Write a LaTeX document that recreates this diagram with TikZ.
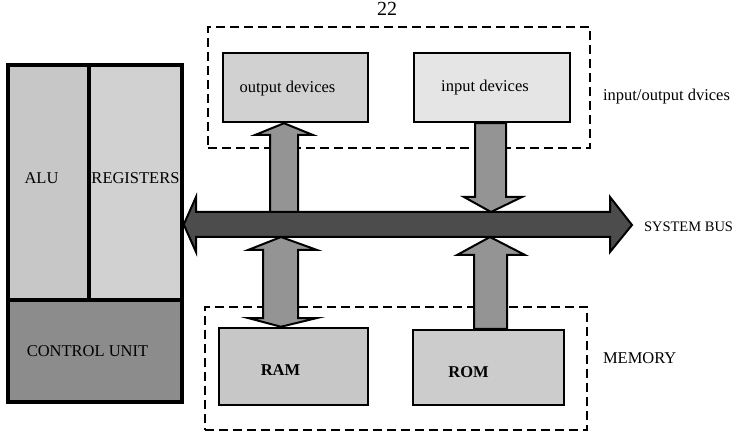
\documentclass[tikz,border=0pt]{standalone}
\usepackage{fontspec}
\setmainfont{Liberation Serif}

\begin{document}
\begin{tikzpicture}
[x=1pt, y=-1pt, font=\fontsize{16.5}{19}\selectfont, line width=2pt,
cpu0/.style={rectangle, draw, line width=3.5pt, fill=black!22, inner sep=0pt},
cpu1/.style={rectangle, draw, line width=3.5pt, fill=black!45, inner sep=0pt},
unit0/.style={rectangle, draw, line width=2.5pt, fill=black!22, inner sep=0pt},
unit1/.style={rectangle, draw, line width=2.5pt, fill=black!10, inner sep=0pt},
frame/.style={rectangle, draw, line width=2.5pt, dash pattern=on 9pt off 5pt, inner sep=0pt},
note/.style={anchor=west, inner sep=0pt},
bus/.style={draw, line width=2pt, fill=black!70, line join=miter},
link/.style={draw, line width=2pt, fill=black!42, line join=miter}]

\useasboundingbox (0,0) rectangle (741,438);

\node[frame, minimum width=382pt, minimum height=121pt] (io) at (399,87.5) {};
\node[frame, minimum width=382pt, minimum height=123pt] (mem) at (396,368.5) {};

\node[cpu0, minimum width=81pt, minimum height=235pt, label={[xshift=-7pt, yshift=4.5pt]center:ALU}] (alu) at (48.5,182.5) {};
\node[cpu0, fill=black!18, minimum width=93pt, minimum height=235pt, label={[yshift=4.5pt]center:REGISTERS}] (regs) at (135.5,182.5) {};
\node[cpu1, minimum width=174pt, minimum height=102pt, label={[xshift=-7.5pt]center:CONTROL UNIT}] (ctrl) at (95,351) {};

\node[unit0, fill=black!18, minimum width=145pt, minimum height=69pt, label={[xshift=-8pt, yshift=-1.5pt]center:output devices}] (outdev) at (295.5,87.5) {};
\node[unit1, minimum width=156pt, minimum height=69pt, label={[xshift=-7pt]center:input devices}] (indev) at (492,87.5) {};
\node[unit0, minimum width=149pt, minimum height=77pt, label={[xshift=-13pt, yshift=-3.5pt]center:\textbf{RAM}}] (ram) at (293.5,366.5) {};
\node[unit0, fill=black!20, minimum width=151pt, minimum height=75pt, label={[xshift=-20pt, yshift=-4.5pt]center:\textbf{ROM}}] (rom) at (488.5,367.5) {};

% system bus
\draw[bus] (regs.east |- 0,224.5) -- (196,197) -- (196,212) -- (610,212) -- (610,197) -- (632,225)
  -- (610,252) -- (610,237) -- (196,237) -- (196,252) -- cycle;
\coordinate (bustop) at (0,212);
\coordinate (busbot) at (0,237);

% devices
\draw[link] (270,0 |- bustop) -- (270,135) -- (255,135) -- (284,0 |- outdev.south) -- (313,135) -- (298,135) -- (298,0 |- bustop) -- cycle;
\draw[link] (475,0 |- indev.south) -- (475,197) -- (464,197) -- (491,0 |- bustop) -- (522,197) -- (506,197) -- (506,0 |- indev.south) -- cycle;

% memory
\draw[link] (281,0 |- busbot) -- (317,250) -- (298,250) -- (298,318) -- (317,318) -- (281,0 |- ram.north)
  -- (248,318) -- (263,318) -- (263,250) -- (248,250) -- cycle;
\draw[link] (474,0 |- rom.north) -- (474,255) -- (457,255) -- (490,0 |- busbot) -- (525,255) -- (507,255) -- (507,0 |- rom.north) -- cycle;

\node[note] (ionote) at (602,97) {input/output dvices};
\node[note, font=\fontsize{14.5}{17}\selectfont] (busnote) at (643,227) {SYSTEM BUS};
\node[note] (memnote) at (602,358) {MEMORY};
\node[font=\fontsize{20}{22}\selectfont, anchor=base] (page) at (387,16) {22};
\end{tikzpicture}
\end{document}
